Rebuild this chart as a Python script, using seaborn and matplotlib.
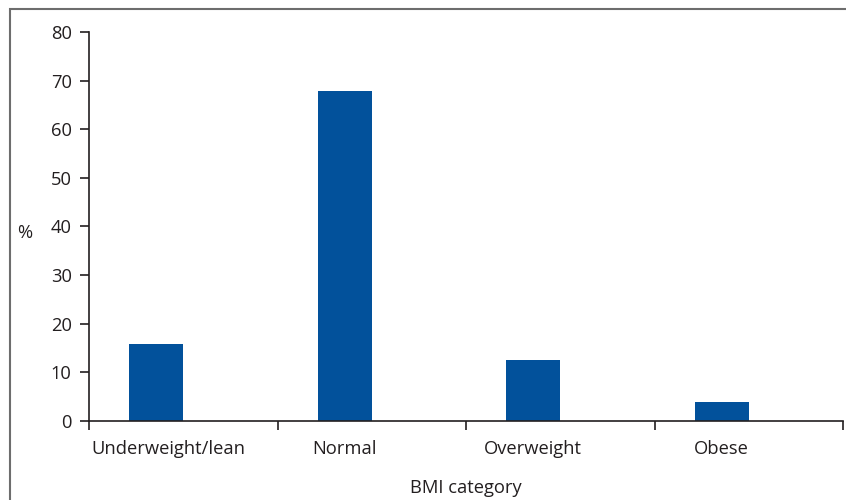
import pandas as pd
import matplotlib.pyplot as plt
import matplotlib.patches as mpatches
import matplotlib.transforms as mtransforms
import seaborn as sns

categories = ["Underweight/lean", "Normal", "Overweight", "Obese"]
percent = [15.8, 67.9, 12.5, 3.9]
# the source chart reserves room for a second (empty) series, so bars sit left of centre
series = ["shown", "empty"]

df = pd.DataFrame({
    "category": categories * 2,
    "series": [series[0]] * 4 + [series[1]] * 4,
    "percent": percent + [0] * 4,
})

sns.set_style("white")
plt.rcParams["font.family"] = ["Open Sans", "DejaVu Sans"]
ink = "#231F20"
fs = 13.2

fig = plt.figure(figsize=(8.46, 5), dpi=100)
ax = fig.add_axes([89 / 846, 1 - 421 / 500, (843 - 89) / 846, (421 - 32) / 500])

sns.barplot(data=df, x="category", y="percent", hue="series", hue_order=series,
            order=categories, palette=["#02519B", "#02519B"], width=0.572,
            saturation=1, linewidth=0, legend=False, ax=ax)

ax.set_ylim(0, 80)
ax.set_xlim(-0.5, 3.5)
ax.set_yticks(range(0, 81, 10))

shift = 0.572 / 4
ax.set_xticks([i - shift for i in range(len(categories))])
ax.set_xticklabels(categories)
ax.set_xticks([i - 0.5 for i in range(len(categories) + 1)], minor=True)

ax.tick_params(axis="y", which="major", length=6.5, width=1.2, color=ink,
               direction="out", pad=6, labelsize=fs, labelcolor=ink, left=True)
ax.tick_params(axis="x", which="major", length=0, pad=13.5, labelsize=fs, labelcolor=ink)
ax.tick_params(axis="x", which="minor", length=6.5, width=1.2, color=ink,
               direction="out", bottom=True)

# first label is nudged right so it clears the y axis, as in the source
first = ax.get_xticklabels()[0]
first.set_transform(first.get_transform() +
                    mtransforms.ScaledTranslation(12 / 100, 0, fig.dpi_scale_trans))

for side in ["top", "right"]:
    ax.spines[side].set_visible(False)
for side in ["left", "bottom"]:
    ax.spines[side].set_color(ink)
    ax.spines[side].set_linewidth(1.2)

ax.set_ylabel("%", rotation=0, fontsize=fs, color=ink, labelpad=0, ha="center", va="center")
ax.yaxis.set_label_coords(-64 / 754, (421 - 233) / 389)
ax.set_xlabel("BMI category", fontsize=fs, color=ink, va="center")
ax.xaxis.set_label_coords(0.5, -(488 - 421) / 389)

frame = mpatches.Rectangle((9.5 / 846, -0.2), 1.5, 1.2 - 8.5 / 500, transform=fig.transFigure,
                           fill=False, edgecolor="#6d6d6d", linewidth=1.5, clip_on=False)
fig.patches.append(frame)

fig.savefig("out.png", dpi=100)
